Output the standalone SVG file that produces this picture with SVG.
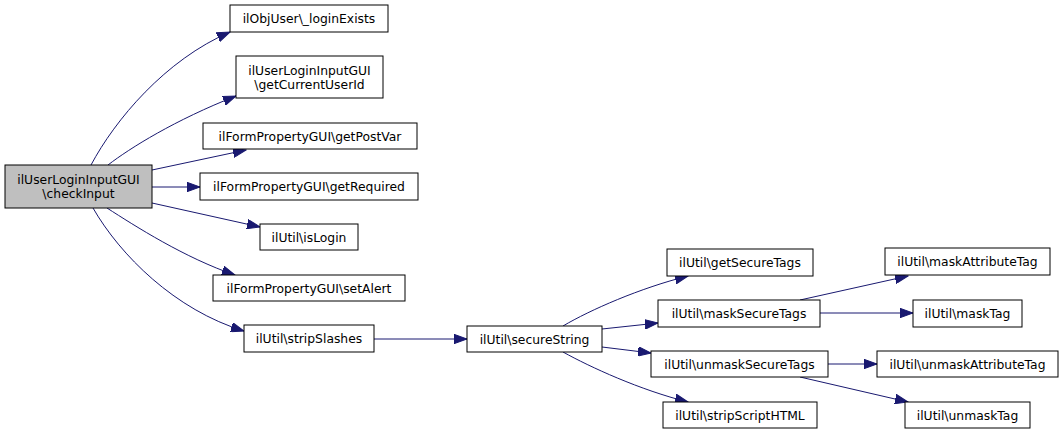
<svg xmlns="http://www.w3.org/2000/svg" width="1064" height="433" viewBox="0 0 1064 433">
<style>
.n rect{fill:#ffffff;stroke:#000000;stroke-width:1}
.n.main rect{fill:#bfbfbf}
.n text{font-family:"DejaVu Sans","Liberation Sans",sans-serif;font-size:12.35px;text-anchor:middle;fill:#000000}
#edges path{fill:none;stroke:#191970;stroke-width:1;marker-end:url(#ah)}
</style>
<defs>
<marker id="ah" markerUnits="userSpaceOnUse" markerWidth="14" markerHeight="10" refX="13" refY="5" orient="auto">
<path d="M0,0.3 L13,5 L0,9.7 z" fill="#191970" stroke="#191970" stroke-width="1"/>
</marker>
</defs>
<rect width="1064" height="433" fill="#ffffff"/>
<g id="edges">
<path d="M91,165 C115,120 165,60 230,32"/>
<path d="M108,165 C130,148 175,120 236,96"/>
<path d="M152,170 L246,150"/>
<path d="M152,187 L200,187"/>
<path d="M152,203 L260,227"/>
<path d="M107,208 C135,226 185,258 235,275"/>
<path d="M93,208 C120,255 175,310 244,331"/>
<path d="M374,339 L467,339"/>
<path d="M563,326 C590,310 640,288 688,276"/>
<path d="M602,329 L658,323"/>
<path d="M602,347 L651,353"/>
<path d="M563,352 C590,367 640,390 688,402"/>
<path d="M800,300 L908,276"/>
<path d="M820,313 L913,313"/>
<path d="M828,364 L877,364"/>
<path d="M800,377 L908,402"/>
</g>
<g id="node_checkInput" class="n main"><rect x="5" y="165" width="147" height="43"/><text x="78.5" y="184">ilUserLoginInputGUI</text><text x="78.5" y="198">\checkInput</text></g>
<g id="node_loginExists" class="n"><rect x="230" y="5" width="158" height="27"/><text x="309" y="23">ilObjUser\_loginExists</text></g>
<g id="node_getCurrentUserId" class="n"><rect x="236" y="56" width="147" height="42"/><text x="309.5" y="74.5">ilUserLoginInputGUI</text><text x="309.5" y="88.5">\getCurrentUserId</text></g>
<g id="node_getPostVar" class="n"><rect x="203" y="123" width="214" height="26"/><text x="310" y="140.5">ilFormPropertyGUI\getPostVar</text></g>
<g id="node_getRequired" class="n"><rect x="200" y="173" width="218" height="27"/><text x="309" y="191">ilFormPropertyGUI\getRequired</text></g>
<g id="node_isLogin" class="n"><rect x="260" y="224" width="98" height="26"/><text x="309" y="241.5">ilUtil\isLogin</text></g>
<g id="node_setAlert" class="n"><rect x="213" y="275" width="192" height="26"/><text x="309" y="292.5">ilFormPropertyGUI\setAlert</text></g>
<g id="node_stripSlashes" class="n"><rect x="244" y="325" width="130" height="27"/><text x="309" y="343">ilUtil\stripSlashes</text></g>
<g id="node_secureString" class="n"><rect x="467" y="326" width="135" height="26"/><text x="534.5" y="343.5">ilUtil\secureString</text></g>
<g id="node_getSecureTags" class="n"><rect x="667" y="249" width="146" height="27"/><text x="740" y="267">ilUtil\getSecureTags</text></g>
<g id="node_maskSecureTags" class="n"><rect x="658" y="300" width="162" height="27"/><text x="739" y="318">ilUtil\maskSecureTags</text></g>
<g id="node_unmaskSecureTags" class="n"><rect x="651" y="351" width="177" height="26"/><text x="739.5" y="368.5">ilUtil\unmaskSecureTags</text></g>
<g id="node_stripScriptHTML" class="n"><rect x="663" y="402" width="154" height="26"/><text x="740" y="419.5">ilUtil\stripScriptHTML</text></g>
<g id="node_maskAttributeTag" class="n"><rect x="885" y="248" width="165" height="27"/><text x="967.5" y="266">ilUtil\maskAttributeTag</text></g>
<g id="node_maskTag" class="n"><rect x="913" y="300" width="109" height="27"/><text x="967.5" y="318">ilUtil\maskTag</text></g>
<g id="node_unmaskAttributeTag" class="n"><rect x="877" y="351" width="181" height="26"/><text x="967.5" y="368.5">ilUtil\unmaskAttributeTag</text></g>
<g id="node_unmaskTag" class="n"><rect x="905" y="402" width="125" height="26"/><text x="967.5" y="419.5">ilUtil\unmaskTag</text></g>
</svg>
